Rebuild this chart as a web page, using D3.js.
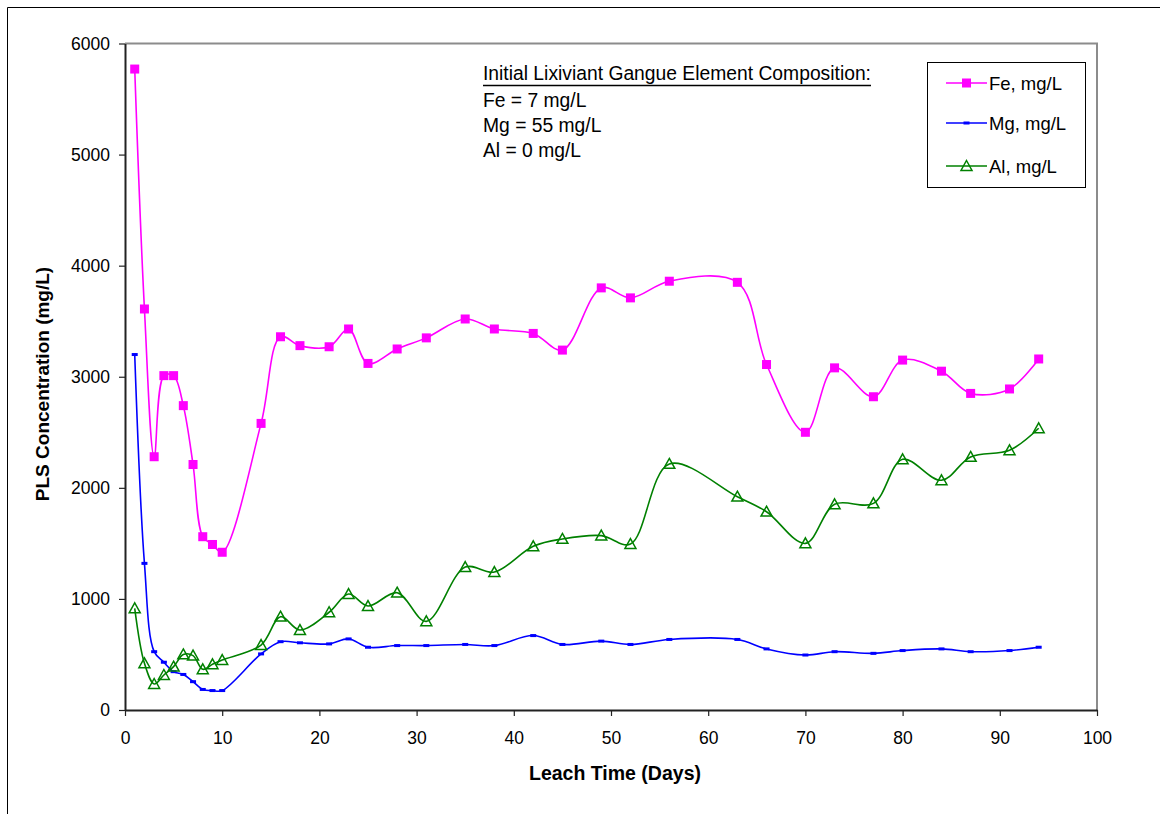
<!DOCTYPE html>
<html>
<head>
<meta charset="utf-8">
<script src="https://cdn.jsdelivr.net/npm/d3@7"></script>
<style>
  html, body { margin: 0; padding: 0; background: #fff; }
  svg { display: block; font-family: "Liberation Sans", Arial, sans-serif; }
</style>
</head>
<body>
<svg id="chart" width="1160" height="814"></svg>
<script>
const days = [1,2,3,4,5,6,7,8,9,10,14,16,18,21,23,25,28,31,35,38,42,45,49,52,56,63,66,70,73,77,80,84,87,91,94];
const feValues = [5770,3610,2280,3010,3010,2740,2210,1560,1490,1420,2580,3360,3280,3270,3430,3120,3250,3350,3520,3430,3390,3240,3800,3710,3860,3850,3110,2500,3080,2820,3150,3050,2850,2890,3160];
const mgValues = [3200,1320,525,430,345,320,255,185,175,175,505,615,605,595,640,565,580,580,590,580,670,590,620,590,635,635,550,495,525,510,535,550,525,535,565];
const alValues = [915,420,234,315,390,500,490,366,411,450,585,840,720,880,1044,936,1056,798,1287,1242,1474,1540,1570,1494,2215,1920,1785,1500,1852,1860,2257,2068,2278,2338,2536];
const xTicks = [0,10,20,30,40,50,60,70,80,90,100];
const yTicks = [0,1000,2000,3000,4000,5000,6000];
const seriesNames = ["Fe, mg/L","Mg, mg/L","Al, mg/L"];
const noteLines = ["Fe = 7 mg/L","Mg = 55 mg/L","Al = 0 mg/L"];
const noteTitle = "Initial Lixiviant Gangue Element Composition:";

const svg = d3.select("#chart");
const L = 125, R = 1097, T = 43.5, B = 710;
const x = d3.scaleLinear().domain([0,100]).range([L,R]);
const y = d3.scaleLinear().domain([0,6000]).range([B,T]);

// outer border
svg.append("path").attr("d", `M7.5,814 V7.5 H1160`).attr("fill","none").attr("stroke","#000").attr("stroke-width",1);

// plot frame (top/right gray)
svg.append("path").attr("d", `M${L},${T} H${R} V${B}`).attr("fill","none").attr("stroke","#8c8c8c").attr("stroke-width",2);

// axes
const fmt = d3.format("d");
const xAxis = d3.axisBottom(x).tickValues(xTicks).tickFormat(fmt).tickSize(6).tickPadding(16).tickSizeOuter(0);
const yAxis = d3.axisLeft(y).tickValues(yTicks).tickFormat(fmt).tickSize(6).tickPadding(9).tickSizeOuter(0);
const gx = svg.append("g").attr("transform",`translate(0,${B})`).call(xAxis);
const gy = svg.append("g").attr("transform",`translate(${L},0)`).call(yAxis);
[gx,gy].forEach(g=>{
  g.select(".domain").attr("stroke","#222").attr("stroke-width",2);
  g.selectAll(".tick line").attr("stroke","#222").attr("stroke-width",1.2);
  g.selectAll(".tick text").attr("fill","#000").style("font-size","17.5px").style("font-family","'Liberation Sans', Arial, sans-serif");
});

// axis titles
svg.append("text").attr("x", 615).attr("y", 780).attr("text-anchor","middle")
  .style("font-size","19.5px").style("font-weight","bold").text("Leach Time (Days)");
svg.append("text").attr("transform",`translate(49,384) rotate(-90)`).attr("text-anchor","middle")
  .style("font-size","19px").style("font-weight","bold").text("PLS Concentration (mg/L)");

const curve = d3.curveCatmullRom.alpha(0.5);
const colors = ["#ff00ff","#0000ff","#008000"];
const allSeries = [feValues, mgValues, alValues];
const line = d3.line().x(d=>x(d[0])).y(d=>y(d[1])).curve(curve);

allSeries.forEach((vals,i)=>{
  const pts = days.map((d,j)=>[d, vals[j]]);
  svg.append("path").datum(pts).attr("d", line).attr("fill","none").attr("stroke",colors[i]).attr("stroke-width",1.6);
});

function drawMarker(g, i, cx, cy) {
  if (i === 0) {
    g.append("rect").attr("x",cx-4.5).attr("y",cy-4.5).attr("width",9).attr("height",9).attr("fill",colors[0]);
  } else if (i === 1) {
    g.append("rect").attr("x",cx-3).attr("y",cy-1.5).attr("width",6).attr("height",3).attr("fill",colors[1]);
  } else {
    const s = 5.5;
    g.append("path").attr("d",`M${cx},${cy-s} L${cx+s},${cy+s*0.8} L${cx-s},${cy+s*0.8} Z`)
      .attr("fill","none").attr("stroke",colors[2]).attr("stroke-width",1.5);
  }
}
const mg = svg.append("g");
allSeries.forEach((vals,i)=>{
  days.forEach((d,j)=> drawMarker(mg, i, x(d), y(vals[j])));
});

// annotation
const note = svg.append("g").style("font-size","19.3px");
const tt = note.append("text").attr("x",483).attr("y",80).text(noteTitle);
const tw = tt.node().getComputedTextLength();
note.append("line").attr("x1",483).attr("x2",483+tw).attr("y1",85.5).attr("y2",85.5).attr("stroke","#000").attr("stroke-width",1.6);
noteLines.forEach((t,k)=> note.append("text").attr("x",483).attr("y",107 + k*25).text(t));

// legend
svg.append("rect").attr("x",927.5).attr("y",62.5).attr("width",158).attr("height",125).attr("fill","#fff").attr("stroke","#000").attr("stroke-width",1);
const legY = [83, 123, 166];
seriesNames.forEach((n,i)=>{
  const g = svg.append("g");
  g.append("line").attr("x1",946).attr("x2",987).attr("y1",legY[i]).attr("y2",legY[i]).attr("stroke",colors[i]).attr("stroke-width",1.6);
  drawMarker(g, i, 966.5, legY[i]);
  g.append("text").attr("x",989).attr("y",legY[i]+6.5).style("font-size","18.5px").text(n);
});
</script>
</body>
</html>
